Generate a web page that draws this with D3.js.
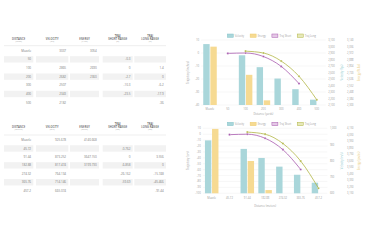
<!DOCTYPE html>
<html><head><meta charset="utf-8">
<script src="https://cdn.jsdelivr.net/npm/d3@7"></script>
<style>html,body{margin:0;padding:0;background:#fff;}svg{display:block;font-family:"Open Sans",Lato,sans-serif;}</style>
</head><body><svg id="c" width="365" height="240" viewBox="0 0 365 240"></svg>
<script>
// ---------- DATA ----------
const distYards = ["Muzzle","50","100","200","300","400","500"];
const distMeters = ["Muzzle","45.72","91.44","182.88","274.32","365.76","457.2"];
const velocityFps = [3037,null,2865,2682,2507,2343,2182];
const energyFtLbs = [3054,null,2690,2360,null,null,null];
const trajShortIn = [null,-0.3,0,-2.7,-10.3,-23.5,null];
const trajLongIn = [null,null,1.4,0,-6.2,-17.9,-36];
const velocityMs = [925.678,null,873.252,817.474,764.134,714.146,665.074];
const energyJ = [4140.668,null,3647.150,3199.730,null,null,null];
const trajShortCm = [null,-0.762,0,-6.858,-26.162,-59.69,null];
const trajLongCm = [null,null,3.556,0,-15.748,-45.466,-91.44];
const headersImperial = [["DISTANCE"],["VELOCITY"],["ENERGY"],["TRAJ","SHORT RANGE"],["TRAJ","LONG RANGE"]];
const unitsImperial = ["(yards)","(fps)","(ft-lbs)","(in)","(in)"];
const unitsMetric = ["(meters)","(m/s)","(joules)","(cm)","(cm)"];
const legendLabels = ["Velocity","Energy","Traj Short","Traj Long"];
const leftTicksTop = [10,0,-10,-20,-30,-40];
const leftTicksBottom = [10,0,-10,-20,-30,-40,-50,-60,-70,-80,-90,-100];
const velTicksTop = [2100,2200,2300,2400,2500,2600,2700,2800,2900,3000,3100];
const enTicksTop = [2300,2384,2468,2552,2636,2720,2804,2888,2972,3056,3140];
const velTicksBottom = [600,700,800,900,1000];
const enTicksBottom = [3150,3250,3350,3450,3550,3650,3750,3850,3950,4050,4150];

// ---------- STYLE ----------
const C = {teal:"#a9d6da", tealS:"#86c4c9", tealT:"#8cc8cc", yel:"#f6da92", yelS:"#eecb6c", yelT:"#e8c46a",
  pur:"#a85aae", olv:"#b2b646", grid:"#ebebeb", tick:"#a0a0a0", text:"#7a7a7a", head:"#555"};
const svg = d3.select("#c");
const fmt = d3.format(",");
const str = v => v==null ? "" : String(v);

// ---------- TABLES ----------
function drawTable(cfg){
  const g = svg.append("g");
  const cells = [[4,33.3],[36,68.3],[70,99],[102.7,132.7],[134.3,166]];
  cfg.headers.forEach((lines,i)=>{
    const cx=(cells[i][0]+cells[i][1])/2;
    lines.forEach((t,j)=>{
      g.append("text").attr("x",cx).attr("y",cfg.titleBase-(lines.length-1-j)*2.7)
       .attr("text-anchor","middle").attr("font-size",2.6).attr("font-weight",600)
       .attr("fill",C.head).attr("letter-spacing",0.1).text(t);
    });
    g.append("text").attr("x",cx).attr("y",cfg.titleBase+2.6).attr("text-anchor","middle")
     .attr("font-size",2.1).attr("fill","#a5a5a5").text(cfg.units[i]);
  });
  g.append("line").attr("x1",4).attr("x2",166).attr("y1",cfg.lineY).attr("y2",cfg.lineY)
   .attr("stroke","#dcdcdc").attr("stroke-width",0.5);
  cfg.rows.forEach((row,r)=>{
    const cy = cfg.y0 + r*cfg.pitch;
    if(r%2===1){
      cells.forEach(c=>g.append("rect").attr("x",c[0]).attr("y",cy-3.2).attr("width",c[1]-c[0]).attr("height",6.4).attr("fill","#f2f2f2"));
    }
    row.forEach((v,i)=>{
      g.append("text").attr("x",cells[i][1]-2.2).attr("y",cy+1.1).attr("text-anchor","end")
       .attr("font-size",3).attr("fill",C.text).text(v);
    });
  });
}
const rowsImp = distYards.map((d,i)=>[d,str(velocityFps[i]),str(energyFtLbs[i]),str(trajShortIn[i]),str(trajLongIn[i])]);
const rowsMet = distMeters.map((d,i)=>[d,velocityMs[i]==null?"":velocityMs[i].toFixed(3),
  energyJ[i]==null?"":energyJ[i].toFixed(3),str(trajShortCm[i]),str(trajLongCm[i])]);
drawTable({headers:headersImperial,units:unitsImperial,titleBase:39.8,lineY:45.7,y0:50.7,pitch:8.65,rows:rowsImp});
drawTable({headers:headersImperial,units:unitsMetric,titleBase:127.8,lineY:135,y0:140,pitch:8.45,rows:rowsMet});

// ---------- CHARTS ----------
function drawChart(cfg){
  const g = svg.append("g");
  const x = d3.scaleBand().domain(cfg.cats).range([cfg.left,cfg.right]).padding(0);
  const bw = x.bandwidth();
  const sub = d3.scaleBand().domain(["v","e"]).range([bw*0.1,bw*0.9]).paddingInner(0.1).paddingOuter(0.05);
  const yL = d3.scaleLinear().domain(cfg.leftDomain).range([cfg.bottom,cfg.top]);
  const yV = d3.scaleLinear().domain(cfg.velDomain).range([cfg.bottom,cfg.top]);
  const yE = d3.scaleLinear().domain(cfg.enDomain).range([cfg.bottom,cfg.top]);
  g.selectAll(".gl").data(cfg.leftTicks).join("line").attr("x1",cfg.left).attr("x2",cfg.right)
   .attr("y1",d=>yL(d)).attr("y2",d=>yL(d)).attr("stroke",C.grid).attr("stroke-width",0.4);
  g.selectAll(".ll").data(cfg.leftTicks).join("text").attr("x",cfg.left-2).attr("y",d=>yL(d)+1)
   .attr("text-anchor","end").attr("font-size",2.8).attr("fill",C.tick).text(d=>d);
  g.selectAll(".vl").data(cfg.velTicks).join("text").attr("x",cfg.right+2.5).attr("y",d=>yV(d)+1)
   .attr("font-size",2.6).attr("fill",C.tick).text(d=>fmt(d));
  g.selectAll(".el").data(cfg.enTicks).join("text").attr("x",cfg.enX).attr("y",d=>yE(d)+1)
   .attr("font-size",2.6).attr("fill",C.tick).text(d=>fmt(d));
  g.selectAll(".cl").data(cfg.cats).join("text").attr("x",d=>x(d)+bw/2).attr("y",cfg.catY)
   .attr("text-anchor","middle").attr("font-size",2.7).attr("fill",C.tick).text(d=>d);
  g.append("text").attr("x",(cfg.left+cfg.right)/2).attr("y",cfg.xTitleY).attr("text-anchor","middle")
   .attr("font-size",2.7).attr("fill",C.tick).text(cfg.xTitle);
  const mid=(cfg.top+cfg.bottom)/2;
  [[cfg.leftTitleX,cfg.leftTitle,C.tick],[cfg.velTitleX,cfg.velTitle,C.tealT],[cfg.enTitleX,cfg.enTitle,C.yelT]].forEach(([tx,t,col])=>{
    g.append("text").attr("transform",`translate(${tx},${mid}) rotate(-90)`).attr("text-anchor","middle")
     .attr("font-size",2.7).attr("fill",col).text(t);
  });
  const vb = cfg.cats.map((c,i)=>({c,v:cfg.vel[i]})).filter(d=>d.v!=null);
  const eb = cfg.cats.map((c,i)=>({c,v:cfg.en[i]})).filter(d=>d.v!=null);
  g.selectAll(".vb").data(vb).join("rect").attr("x",d=>x(d.c)+sub("v")).attr("width",sub.bandwidth())
   .attr("y",d=>yV(d.v)).attr("height",d=>cfg.bottom-yV(d.v)).attr("fill",C.teal);
  g.selectAll(".eb").data(eb).join("rect").attr("x",d=>x(d.c)+sub("e")).attr("width",sub.bandwidth())
   .attr("y",d=>yE(d.v)).attr("height",d=>cfg.bottom-yE(d.v)).attr("fill",C.yel);
  [[cfg.short,C.pur],[cfg.long,C.olv]].forEach(([arr,col])=>{
    const pts = cfg.cats.map((c,i)=>({c,v:arr[i]})).filter(d=>d.v!=null);
    g.append("path").datum(pts).attr("fill","none").attr("stroke",col).attr("stroke-width",0.8)
     .attr("d",d3.line().x(d=>x(d.c)+bw/2).y(d=>yL(d.v)).curve(d3.curveMonotoneX));
    g.selectAll(null).data(pts).join("circle").attr("cx",d=>x(d.c)+bw/2).attr("cy",d=>yL(d.v))
     .attr("r",1.1).attr("fill",col).attr("stroke","#fff").attr("stroke-width",0.3);
  });
  const items=[[legendLabels[0],C.teal,C.tealS],[legendLabels[1],C.yel,C.yelS],[legendLabels[2],"#e4c8e6",C.pur],[legendLabels[3],"#e6e8b8",C.olv]];
  let lx = 227.3;
  items.forEach(([t,f,s])=>{
    g.append("rect").attr("x",lx).attr("y",cfg.legendY-1.7).attr("width",6).attr("height",3.4)
     .attr("fill",f).attr("stroke",s).attr("stroke-width",0.5);
    const tt=g.append("text").attr("x",lx+7.5).attr("y",cfg.legendY+1).attr("font-size",2.6).attr("fill",C.tick).text(t);
    lx += 7.5 + tt.node().getComputedTextLength() + 6;
  });
}
drawChart({cats:distYards,left:201.1,right:325.7,top:40,bottom:105,leftDomain:[-40,10],leftTicks:leftTicksTop,
  velDomain:[2100,3100],velTicks:velTicksTop,enDomain:[2300,3140],enTicks:enTicksTop,enX:347,
  vel:velocityFps,en:energyFtLbs,short:trajShortIn,long:trajLongIn,catY:110,xTitleY:115,legendY:35.7,
  xTitle:"Distance (yards)",leftTitle:"Trajectory (inches)",velTitle:"Velocity (fps)",enTitle:"Energy (ft-lbs)",
  leftTitleX:189,velTitleX:342.5,enTitleX:359.5});
drawChart({cats:distMeters,left:202.8,right:327.4,top:128.3,bottom:193.3,leftDomain:[-100,10],leftTicks:leftTicksBottom,
  velDomain:[600,1000],velTicks:velTicksBottom,enDomain:[3150,4150],enTicks:enTicksBottom,enX:347,
  vel:velocityMs,en:energyJ,short:trajShortCm,long:trajLongCm,catY:199,xTitleY:207,legendY:124,
  xTitle:"Distance (meters)",leftTitle:"Trajectory (cm)",velTitle:"Velocity (m/s)",enTitle:"Energy (joules)",
  leftTitleX:189,velTitleX:342.5,enTitleX:359.5});
</script></body></html>
